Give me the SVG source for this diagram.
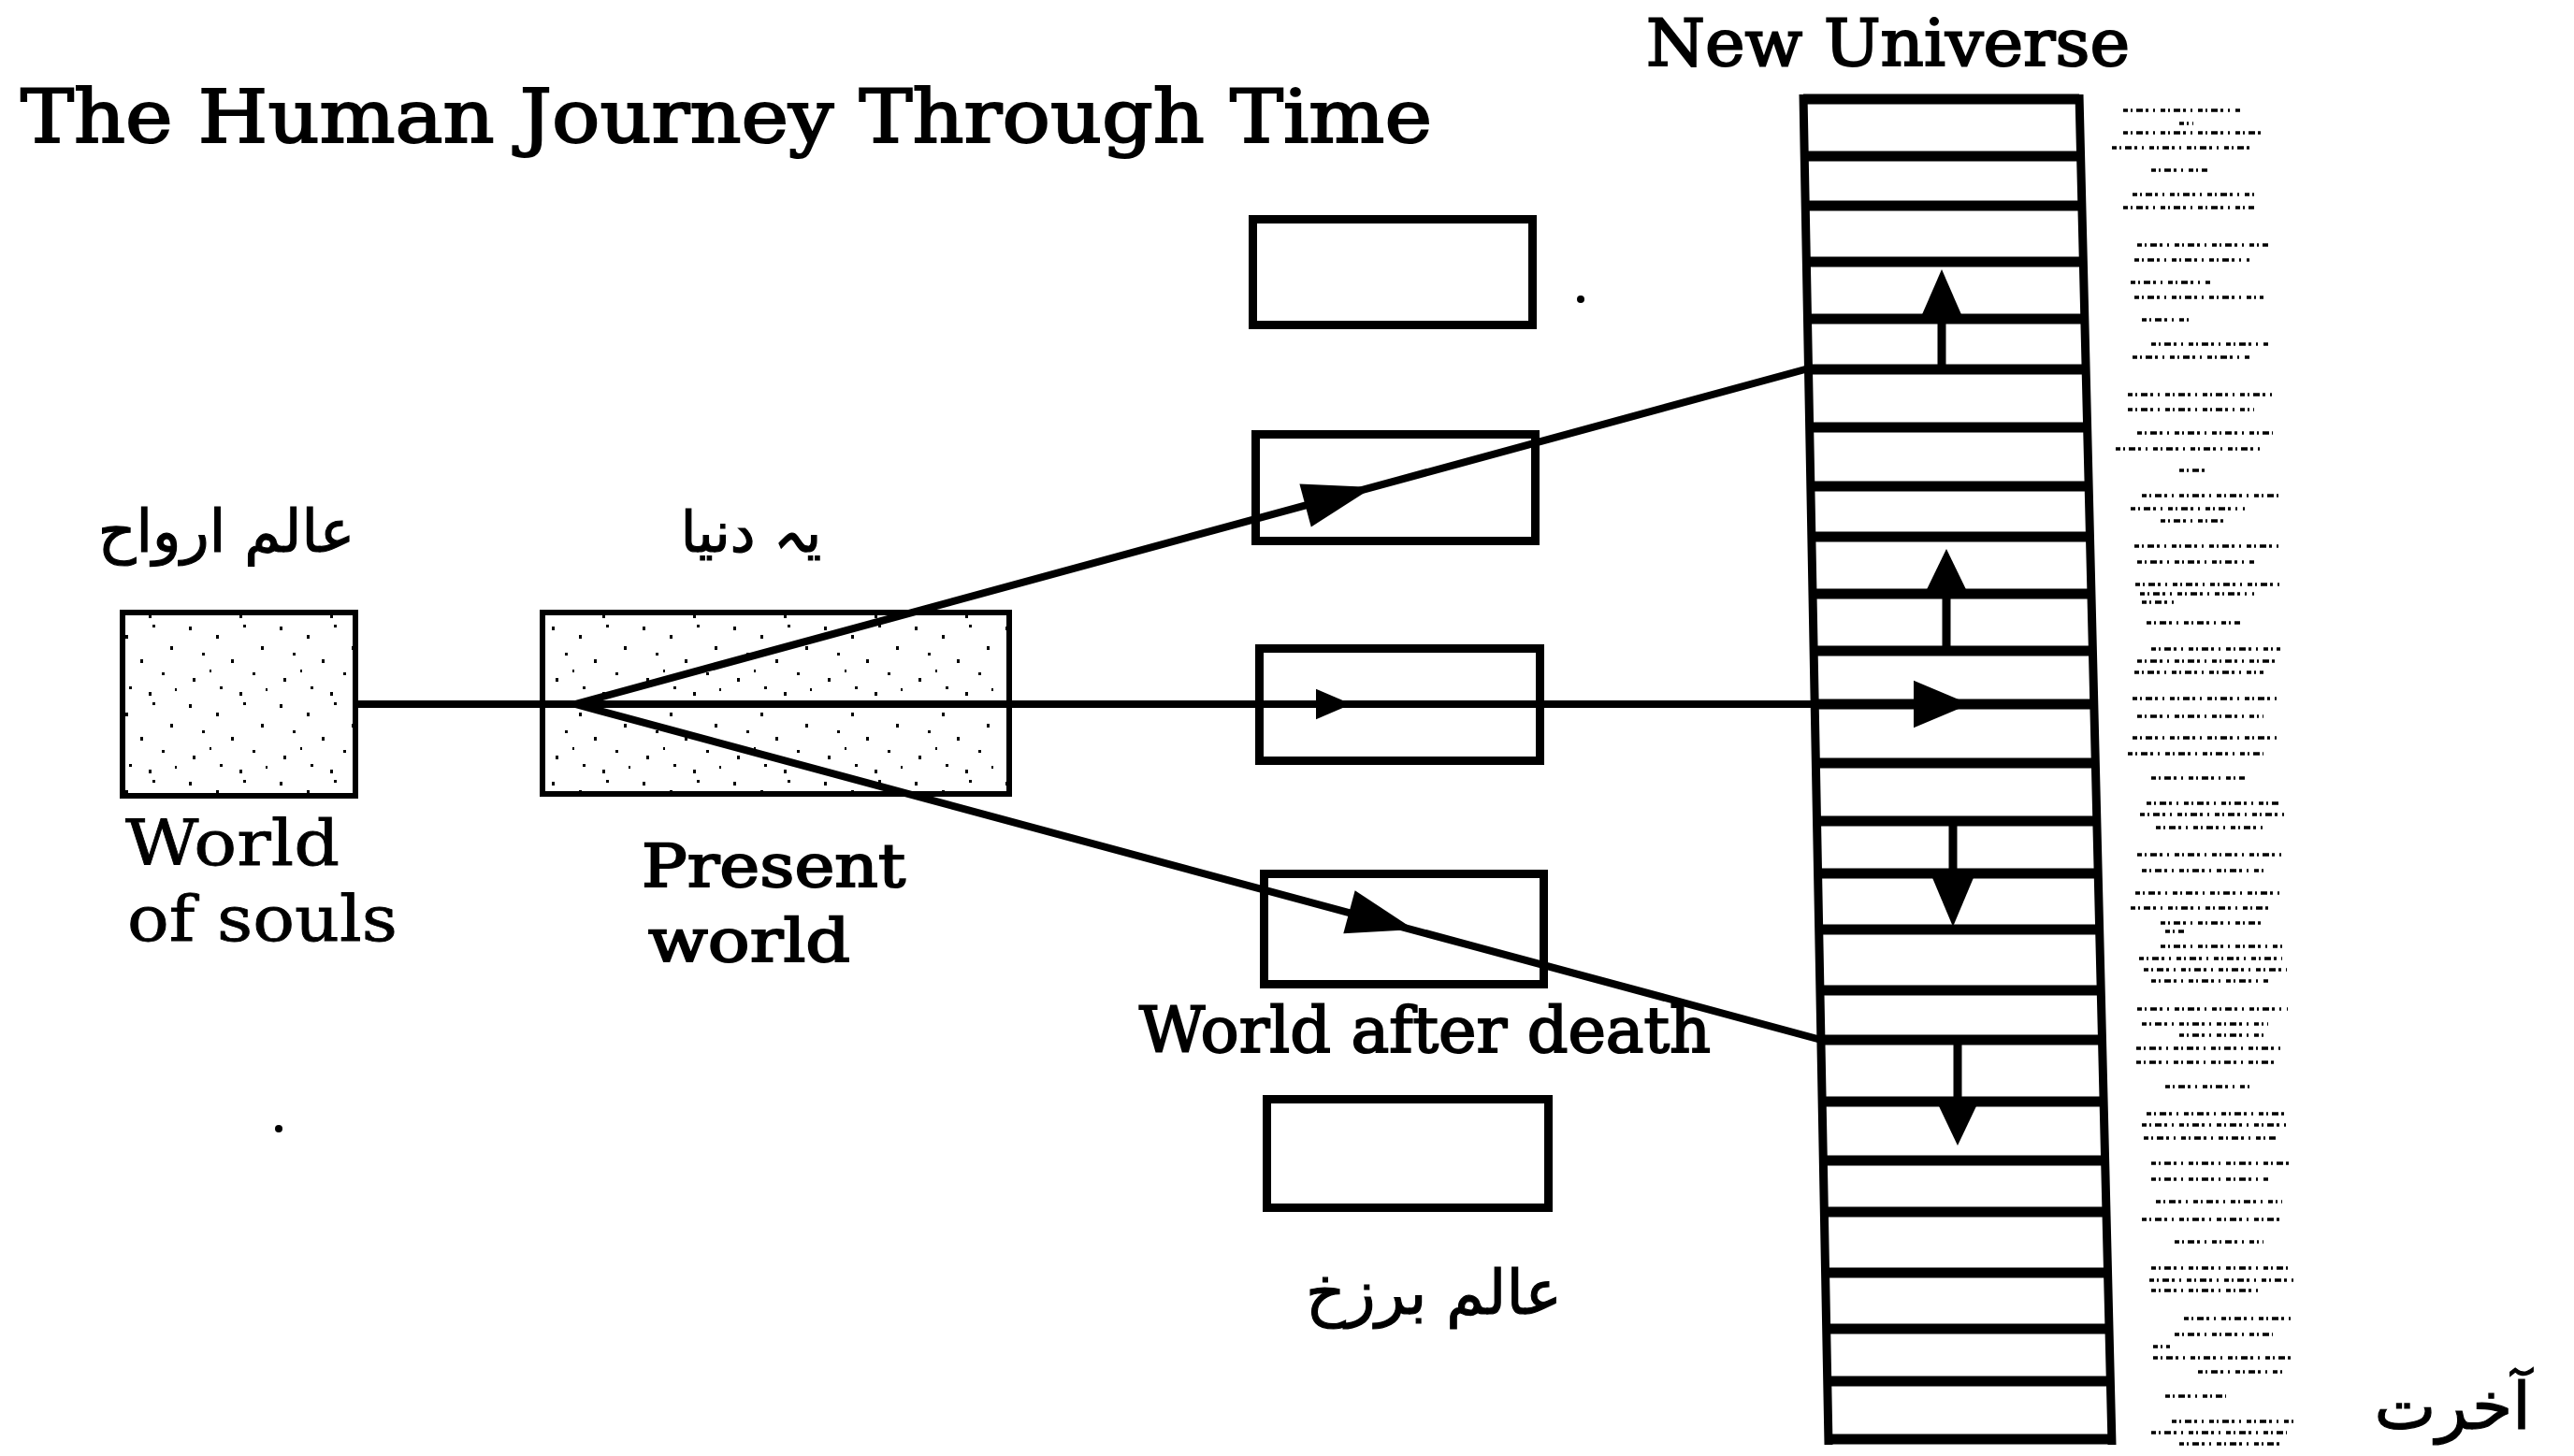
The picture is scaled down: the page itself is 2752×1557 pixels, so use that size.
<svg xmlns="http://www.w3.org/2000/svg" width="2752" height="1557" viewBox="0 0 2752 1557">
<style>
  .lat { font-family: "DejaVu Serif", "Liberation Serif", serif; fill: #000; stroke: #000; stroke-width: 2; }
  .thin { stroke-width: 0.8; }
  .urdu { font-family: "DejaVu Sans", "Noto Sans", sans-serif; fill: #000; stroke: #000; stroke-width: 1.2; text-anchor: middle; }
  .box { fill: #fff; stroke: #000; stroke-width: 9; }
  .sbox { fill: url(#stip); stroke: #000; stroke-width: 6; }
  .line { stroke: #000; stroke-width: 8; fill: none; stroke-linecap: round; }
  .edge { stroke: #000; stroke-width: 9; fill: none; }
  .rung { stroke: #000; stroke-width: 11; fill: none; }
  .shaft { stroke: #000; stroke-width: 9; fill: none; }
  .head { fill: #000; }
  .noise { stroke: #000; stroke-width: 3.5; fill: none; stroke-dasharray: 5 3 2 4 7 3 3 5 2 6; }
</style>
<defs>
  <pattern id="stip" width="97" height="83" patternUnits="userSpaceOnUse">
    <rect width="97" height="83" fill="#fff"/>
    <rect x="8" y="6" width="3" height="4" fill="#000"/>
    <rect x="37" y="15" width="3" height="4" fill="#000"/>
    <rect x="66" y="4" width="3" height="3" fill="#000"/>
    <rect x="85" y="27" width="3" height="4" fill="#000"/>
    <rect x="22" y="34" width="3" height="3" fill="#000"/>
    <rect x="53" y="41" width="3" height="4" fill="#000"/>
    <rect x="76" y="55" width="3" height="3" fill="#000"/>
    <rect x="12" y="61" width="3" height="4" fill="#000"/>
    <rect x="41" y="70" width="3" height="3" fill="#000"/>
    <rect x="62" y="76" width="3" height="4" fill="#000"/>
    <rect x="90" y="72" width="2" height="3" fill="#000"/>
    <rect x="30" y="52" width="2" height="3" fill="#000"/>
  </pattern>
  <path id="ah" d="M0 0 L-1 -0.36 L-1 0.36 Z"/>
</defs>

<g id="title">
  <text class="lat" x="22" y="152" font-size="78" textLength="1509" lengthAdjust="spacingAndGlyphs">The Human Journey Through Time</text>
</g>

<g id="world-of-souls">
  <rect class="sbox" x="131" y="655" width="249" height="196"/>
  <text class="urdu" x="242" y="590" font-size="63">عالم ارواح</text>
  <text class="lat thin" x="134" y="925" font-size="68" textLength="229" lengthAdjust="spacingAndGlyphs">World</text>
  <text class="lat thin" x="136" y="1006" font-size="68" textLength="289" lengthAdjust="spacingAndGlyphs">of souls</text>
</g>

<g id="present-world">
  <rect class="sbox" x="580" y="655" width="499" height="194"/>
  <text class="urdu" x="803" y="590" font-size="60">یہ دنیا</text>
  <text class="lat" x="686" y="948" font-size="64" textLength="282" lengthAdjust="spacingAndGlyphs">Present</text>
  <text class="lat" x="693" y="1028" font-size="64" textLength="216" lengthAdjust="spacingAndGlyphs">world</text>
</g>

<g id="after-death-1"><rect class="box" x="1339.5" y="234.5" width="299" height="113"/></g>
<g id="after-death-2"><rect class="box" x="1342.5" y="464.5" width="299" height="114"/></g>
<g id="after-death-3"><rect class="box" x="1346.5" y="693.5" width="300" height="120"/></g>
<g id="after-death-4"><rect class="box" x="1351.5" y="934.5" width="299" height="118"/></g>
<g id="after-death-5"><rect class="box" x="1354.5" y="1175.5" width="301" height="116"/></g>
<g id="after-death-labels">
  <text class="lat" x="1218" y="1125" font-size="67" textLength="611" lengthAdjust="spacingAndGlyphs">World after death</text>
  <text class="urdu" x="1533" y="1405" font-size="66">عالم برزخ</text>
</g>

<g id="new-universe">
  <text class="lat" x="1760" y="70" font-size="69" textLength="517" lengthAdjust="spacingAndGlyphs">New Universe</text>
  <path class="edge" d="M1928 101 L1955 1545 M2223 101 L2258 1545"/>
  <path class="rung" d="M1928 106 H2223 M1929 167 H2225 M1930 220 H2226 M1931 280 H2227 M1932 341 H2229 M1933 395 H2230 M1935 457 H2232 M1936 520 H2233 M1937 574 H2234 M1938 635 H2236 M1939 696 H2237 M1940 753 H2239 M1941 816 H2240 M1942 878 H2242 M1944 934 H2243 M1945 994 H2245 M1946 1059 H2246 M1947 1112 H2248 M1948 1178 H2249 M1949 1241 H2251 M1950 1296 H2252 M1952 1361 H2254 M1953 1421 H2255 M1954 1477 H2256 M1955 1539 H2258"/>
  <path class="shaft" d="M2076 395 V335 M2081 696 V630 M2088 878 V940 M2093 1112 V1184"/>
  <use href="#ah" class="head" transform="translate(2076 288) rotate(-90) scale(58 70)"/>
  <use href="#ah" class="head" transform="translate(2081 587) rotate(-90) scale(52 70)"/>
  <use href="#ah" class="head" transform="translate(2088 991) rotate(90) scale(60 70)"/>
  <use href="#ah" class="head" transform="translate(2093 1225) rotate(90) scale(50 66)"/>
  <use href="#ah" class="head" transform="translate(2106 753) scale(60 70)"/>
  <path class="noise" d="M2270 118 H2395 M2330 132 H2345 M2270 142 H2420 M2258 158 H2405 M2300 182 H2360 M2280 208 H2410 M2270 222 H2410 M2285 262 H2425 M2282 278 H2405 M2278 302 H2365 M2282 318 H2420 M2290 342 H2340 M2300 368 H2425 M2280 382 H2405 M2275 422 H2430 M2275 438 H2410 M2285 463 H2430 M2262 480 H2418 M2330 503 H2360 M2290 530 H2436 M2278 544 H2400 M2310 557 H2380 M2282 584 H2436 M2285 601 H2410 M2283 625 H2438 M2288 635 H2410 M2290 644 H2330 M2295 666 H2395 M2300 694 H2438 M2285 707 H2436 M2282 719 H2420 M2280 747 H2438 M2285 766 H2420 M2280 789 H2436 M2275 806 H2420 M2300 832 H2400 M2295 859 H2438 M2288 871 H2445 M2305 885 H2420 M2285 914 H2445 M2290 931 H2420 M2283 955 H2440 M2278 971 H2425 M2310 987 H2420 M2315 996 H2335 M2310 1012 H2440 M2287 1025 H2440 M2292 1037 H2445 M2300 1049 H2425 M2285 1079 H2446 M2290 1095 H2425 M2330 1107 H2420 M2284 1121 H2440 M2284 1136 H2432 M2315 1162 H2405 M2295 1191 H2442 M2290 1203 H2450 M2292 1217 H2435 M2300 1244 H2450 M2300 1261 H2425 M2305 1285 H2440 M2290 1304 H2437 M2325 1328 H2420 M2300 1356 H2446 M2298 1369 H2452 M2300 1380 H2420 M2335 1410 H2450 M2325 1427 H2430 M2302 1440 H2320 M2302 1452 H2452 M2350 1467 H2440 M2315 1493 H2380 M2322 1520 H2452 M2300 1532 H2445 M2330 1544 H2440"/>
  <text class="urdu" x="2622" y="1528" font-size="70">آخرت</text>
</g>

<g id="connectors">
  <path class="line" d="M381 753 H1940"/>
  <path class="line" d="M615 753 L1930 395"/>
  <path class="line" d="M615 753 L1947 1112"/>
  <use href="#ah" class="head" transform="translate(1468 521) rotate(-15.1) scale(75 66)"/>
  <use href="#ah" class="head" transform="translate(1445 753) scale(38 45)"/>
  <use href="#ah" class="head" transform="translate(1512 994) rotate(15.1) scale(72 66)"/>
</g>

<g id="specks">
  <circle cx="1690" cy="320" r="4" fill="#000"/>
  <circle cx="298" cy="1207" r="4" fill="#000"/>
</g>
</svg>
